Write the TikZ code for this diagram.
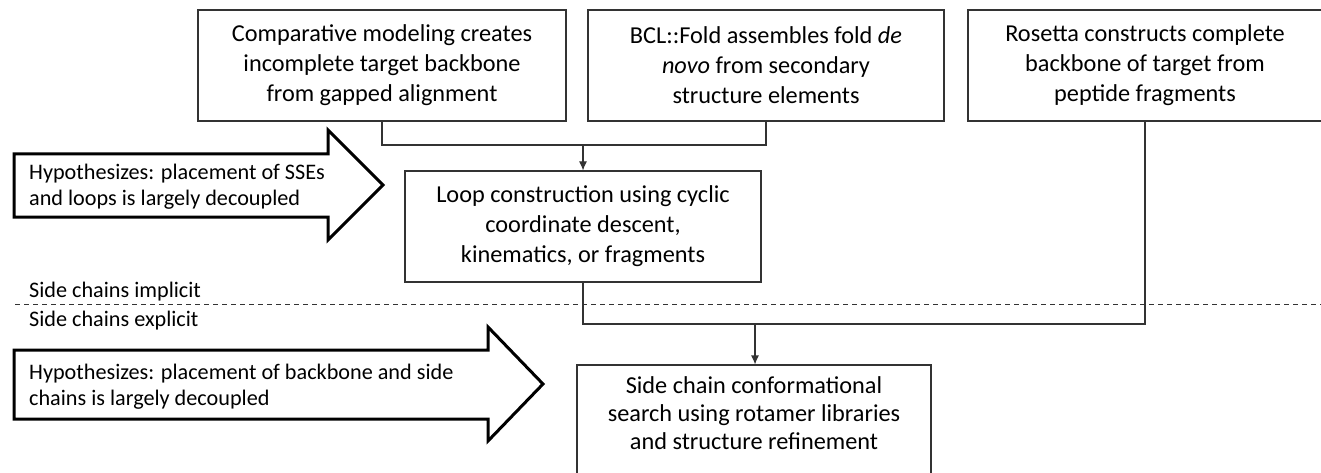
\documentclass[tikz,border=0pt]{standalone}
\usepackage{fontspec}
\setmainfont{Carlito}
\usetikzlibrary{arrows.meta}
\begin{document}
\begin{tikzpicture}[x=1pt,y=-1pt,
  box/.style={draw=black!80,line width=1.1pt,minimum height=111pt,inner sep=0pt,align=center,
    font=\fontsize{24.3}{30}\selectfont},
  conn/.style={draw=black!80,line width=1.1pt},
  arr/.style={conn,-{Latex[length=9pt,width=8pt]}},
  big/.style={draw=black,line width=3pt,line join=miter,fill=white},
  hyp/.style={anchor=west,align=left,inner sep=0pt,font=\fontsize{22.2}{26}\selectfont},
  lbl/.style={anchor=base west,inner sep=0pt,font=\fontsize{22.2}{26}\selectfont}]
\useasboundingbox (0,0) rectangle (1321,473);
\clip (0,0) rectangle (1321,473);
\fill[white] (0,0) rectangle (1321,473);
% boxes
\node[box,minimum width=368pt] (cm) at (382,65.5) {Comparative modeling creates\\incomplete target backbone\\from gapped alignment};
\node[box,minimum width=356pt] (bcl) at (766,65.5) {BCL::Fold assembles fold \textit{de}\\\textit{novo} from secondary\\structure elements};
\node[box,minimum width=354pt] (ros) at (1145,65.5) {Rosetta constructs complete\\backbone of target from\\peptide fragments};
\node[box,minimum width=356pt] (loop) at (583,226.5) {Loop construction using cyclic\\coordinate descent,\\kinematics, or fragments};
\node[box,minimum width=354pt,minimum height=130pt,text depth=0pt] (side) at (754,430) {};
\node[align=center,inner sep=0pt,font=\fontsize{24.3}{28}\selectfont] (sidetxt) at (754,413) {Side chain conformational\\search using rotamer libraries\\and structure refinement};
% connectors
\coordinate (j1) at (583,145);
\coordinate (j2) at (755,324);
\draw[conn] (cm.south) |- (j1) -| (bcl.south);
\draw[arr] (j1) -- (loop.north);
\draw[conn] (loop.south) |- (j2) -| (ros.south);
\draw[arr] (j2) -- (side.north -| j2);
% dashed divider
\coordinate (dl) at (15,304);
\coordinate (dr) at (1321,304);
\draw[black!80,line width=1pt,dash pattern=on 5pt off 4pt] (dl) -- (dr);
\node[lbl] (imp) at (29,297) {Side chains implicit};
\node[lbl] (exp) at (29,326) {Side chains explicit};
% block arrows
\draw[big] (14,154) -- (328,154) -- (328,130) -- (383,185) -- (328,240) -- (328,217) -- (14,217) -- cycle;
\node[hyp] (h1) at (29,187) {Hypothesizes: placement of SSEs\\and loops is largely decoupled};
\draw[big] (14,350) -- (488,350) -- (488,327) -- (543,384) -- (488,441) -- (488,419) -- (14,419) -- cycle;
\node[hyp] (h2) at (29,387) {Hypothesizes: placement of backbone and side\\chains is largely decoupled};
\end{tikzpicture}
\end{document}
